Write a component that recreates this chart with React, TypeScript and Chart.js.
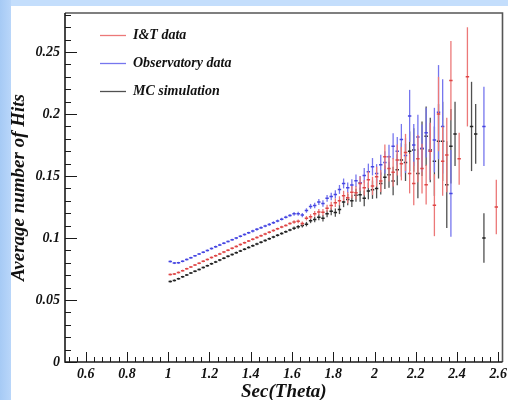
import React, { useEffect, useRef } from "react";
import { Chart, registerables } from "chart.js";

Chart.register(...registerables);

// ---- data ----
const secTheta = [
  1.01, 1.03, 1.05, 1.07, 1.09, 1.11, 1.13, 1.15, 1.17, 1.19,
  1.21, 1.23, 1.25, 1.27, 1.29, 1.31, 1.33, 1.35, 1.37, 1.39,
  1.41, 1.43, 1.45, 1.47, 1.49, 1.51, 1.53, 1.55, 1.57, 1.59,
  1.61, 1.63, 1.65, 1.67, 1.69, 1.71, 1.73, 1.75, 1.77, 1.79,
  1.81, 1.83, 1.85, 1.87, 1.89, 1.91, 1.93, 1.95, 1.97, 1.99,
  2.01, 2.03, 2.05, 2.07, 2.09, 2.11, 2.13, 2.15, 2.17, 2.19,
  2.21, 2.23, 2.25, 2.27, 2.29, 2.31, 2.33, 2.35, 2.37, 2.39,
  2.41, 2.43, 2.45, 2.47, 2.49, 2.51, 2.53, 2.55, 2.57, 2.59,
];

const itValues = [
  0.0705, 0.0710, 0.0722, 0.0737, 0.0752, 0.0767, 0.0782, 0.0797, 0.0812, 0.0827,
  0.0842, 0.0857, 0.0872, 0.0887, 0.0902, 0.0917, 0.0932, 0.0947, 0.0962, 0.0976,
  0.0990, 0.1004, 0.1018, 0.1032, 0.1046, 0.1060, 0.1074, 0.1088, 0.1102, 0.1118,
  0.1130, 0.1135, 0.1118, 0.1160, 0.1172, 0.1195, 0.1210, 0.1208, 0.1240, 0.1262,
  0.1285, 0.1300, 0.1340, 0.1325, 0.1370, 0.1365, 0.1440, 0.1405, 0.1470, 0.1420,
  0.1495, 0.1460, 0.1655, 0.1560, 0.1530, 0.1630, 0.1600, 0.1690, 0.1520, 0.1440,
  0.1640, 0.1560, 0.1430, 0.1700, 0.1265, 0.2000, 0.1620, 0.1670, 0.2270, null,
  0.1640, null, 0.2300, null, null, null, null, null, null, 0.1250,
];
const itErrors = [
  0.0008, 0.0008, 0.0008, 0.0008, 0.0008, 0.0008, 0.0008, 0.0008, 0.0008, 0.0008,
  0.0009, 0.0009, 0.0009, 0.0009, 0.0009, 0.0009, 0.0009, 0.0009, 0.0009, 0.0009,
  0.0010, 0.0010, 0.0010, 0.0010, 0.0010, 0.0010, 0.0010, 0.0010, 0.0010, 0.0010,
  0.0014, 0.0015, 0.0016, 0.0018, 0.0020, 0.0022, 0.0024, 0.0026, 0.0028, 0.0031,
  0.0034, 0.0037, 0.0041, 0.0045, 0.0049, 0.0053, 0.0058, 0.0063, 0.0068, 0.0074,
  0.0080, 0.0088, 0.0100, 0.0105, 0.0115, 0.0125, 0.0135, 0.0150, 0.0160, 0.0175,
  0.0190, 0.0200, 0.0160, 0.0230, 0.0250, 0.0300, 0.0280, 0.0300, 0.0320, null,
  0.0210, null, 0.0400, null, null, null, null, null, null, 0.0220,
];

const obsValues = [
  0.0810, 0.0798, 0.0800, 0.0812, 0.0826, 0.0841, 0.0856, 0.0871, 0.0886, 0.0900,
  0.0915, 0.0930, 0.0944, 0.0958, 0.0972, 0.0986, 0.1000, 0.1014, 0.1028, 0.1042,
  0.1056, 0.1070, 0.1083, 0.1097, 0.1110, 0.1124, 0.1138, 0.1152, 0.1168, 0.1182,
  0.1195, 0.1196, 0.1185, 0.1222, 0.1255, 0.1262, 0.1290, 0.1278, 0.1320, 0.1335,
  0.1352, 0.1392, 0.1440, 0.1405, 0.1428, 0.1462, 0.1445, 0.1505, 0.1535, 0.1575,
  0.1520, 0.1590, 0.1610, 0.1655, 0.1740, 0.1700, 0.1795, 0.1665, 0.1985, 0.1750,
  0.1815, 0.1725, 0.1850, 0.1700, 0.1790, 0.2015, 0.1900, null, 0.1360, null,
  null, null, null, null, null, null, 0.1900, null, null, null,
];
const obsErrors = [
  0.0008, 0.0008, 0.0008, 0.0008, 0.0008, 0.0008, 0.0008, 0.0008, 0.0008, 0.0008,
  0.0009, 0.0009, 0.0009, 0.0009, 0.0009, 0.0009, 0.0009, 0.0009, 0.0009, 0.0009,
  0.0011, 0.0011, 0.0011, 0.0011, 0.0011, 0.0011, 0.0011, 0.0011, 0.0011, 0.0011,
  0.0015, 0.0016, 0.0017, 0.0018, 0.0020, 0.0022, 0.0024, 0.0026, 0.0028, 0.0030,
  0.0033, 0.0036, 0.0040, 0.0043, 0.0047, 0.0051, 0.0055, 0.0060, 0.0065, 0.0070,
  0.0076, 0.0082, 0.0090, 0.0098, 0.0105, 0.0115, 0.0125, 0.0140, 0.0210, 0.0170,
  0.0180, 0.0190, 0.0200, 0.0230, 0.0260, 0.0380, 0.0380, null, 0.0350, null,
  null, null, null, null, null, null, 0.0320, null, null, null,
];

const mcValues = [
  0.0650, 0.0658, 0.0672, 0.0687, 0.0702, 0.0717, 0.0732, 0.0747, 0.0762, 0.0777,
  0.0792, 0.0807, 0.0822, 0.0837, 0.0852, 0.0867, 0.0882, 0.0896, 0.0910, 0.0924,
  0.0938, 0.0952, 0.0966, 0.0980, 0.0994, 0.1008, 0.1022, 0.1036, 0.1050, 0.1064,
  0.1078, 0.1090, 0.1100, 0.1112, 0.1140, 0.1150, 0.1168, 0.1160, 0.1195, 0.1215,
  0.1205, 0.1230, 0.1290, 0.1310, 0.1300, 0.1345, 0.1350, 0.1320, 0.1380, 0.1390,
  0.1400, 0.1440, 0.1490, 0.1510, 0.1460, 0.1550, 0.1630, 0.1610, 0.1700, 0.1710,
  0.1520, 0.1720, 0.1820, 0.1710, 0.1620, 0.1780, 0.1780, 0.1430, 0.1740, 0.1840,
  null, null, null, 0.1900, 0.1840, null, 0.1000, null, null, null,
];
const mcErrors = [
  0.0008, 0.0008, 0.0008, 0.0008, 0.0008, 0.0008, 0.0008, 0.0008, 0.0008, 0.0008,
  0.0009, 0.0009, 0.0009, 0.0009, 0.0009, 0.0009, 0.0009, 0.0009, 0.0009, 0.0009,
  0.0010, 0.0010, 0.0010, 0.0010, 0.0010, 0.0010, 0.0010, 0.0010, 0.0010, 0.0010,
  0.0014, 0.0015, 0.0016, 0.0018, 0.0020, 0.0022, 0.0024, 0.0026, 0.0028, 0.0031,
  0.0034, 0.0037, 0.0041, 0.0045, 0.0049, 0.0053, 0.0058, 0.0063, 0.0068, 0.0074,
  0.0080, 0.0088, 0.0095, 0.0105, 0.0115, 0.0125, 0.0135, 0.0150, 0.0160, 0.0175,
  0.0200, 0.0220, 0.0240, 0.0260, 0.0280, 0.0300, 0.0320, 0.0350, 0.0300, 0.0260,
  null, null, null, 0.0360, 0.0240, null, 0.0200, null, null, null,
];

const seriesLabels = ["I&T data", "Observatory data", "MC simulation"];

const xTickValues = [0.6, 0.8, 1, 1.2, 1.4, 1.6, 1.8, 2, 2.2, 2.4, 2.6];
const xTickLabels = ["0.6", "0.8", "1", "1.2", "1.4", "1.6", "1.8", "2", "2.2", "2.4", "2.6"];
const yTickValues = [0, 0.05, 0.1, 0.15, 0.2, 0.25];
const yTickLabels = ["0", "0.05", "0.1", "0.15", "0.2", "0.25"];

const X_MIN = 0.5;
const X_MAX = 2.62;
const Y_MIN = 0;
const Y_MAX = 0.2815;

// ---- styles ----
const FAMILY = "'Liberation Serif', 'DejaVu Serif', serif";
const COLORS = [
  { bar: "rgb(236,120,120)", mark: "rgb(222,70,70)" },
  { bar: "rgb(118,118,238)", mark: "rgb(70,70,225)" },
  { bar: "rgb(80,80,80)", mark: "rgb(35,35,35)" },
];

function buildPoints(values: (number | null)[], errors: (number | null)[]) {
  const out: { x: number; y: number; err: number }[] = [];
  values.forEach((v, i) => {
    if (v !== null && v !== undefined) {
      out.push({ x: secTheta[i], y: v, err: errors[i] ?? 0 });
    }
  });
  return out;
}

const errorBarPlugin = {
  id: "errorBars",
  beforeDatasetDraw(chart: any, args: any) {
    const ds = chart.data.datasets[args.index];
    const meta = args.meta;
    const yScale = chart.scales.y;
    const ctx = chart.ctx;
    ctx.save();
    ctx.strokeStyle = ds.errorColor;
    ctx.lineWidth = 1.3;
    meta.data.forEach((el: any, j: number) => {
      const p = ds.data[j];
      if (!p || !p.err) return;
      const y1 = yScale.getPixelForValue(p.y - p.err);
      const y2 = yScale.getPixelForValue(p.y + p.err);
      ctx.beginPath();
      ctx.moveTo(el.x, y1);
      ctx.lineTo(el.x, y2);
      ctx.stroke();
    });
    ctx.restore();
  },
};

function minorValues(major: number[], lo: number, hi: number, parts: number) {
  const step = (major[1] - major[0]) / parts;
  const vals: number[] = [];
  let v = major[0];
  while (v - step >= lo - 1e-9) v -= step;
  for (; v <= hi + 1e-9; v += step) vals.push(Math.round(v * 10000) / 10000);
  return vals;
}

const frameTicksPlugin = {
  id: "frameTicks",
  afterDraw(chart: any) {
    const { ctx, chartArea } = chart;
    const { left, top, right, bottom } = chartArea;
    const xs = chart.scales.x;
    const ys = chart.scales.y;
    ctx.save();
    ctx.strokeStyle = "#1a1a1a";
    ctx.lineWidth = 1;
    minorValues(yTickValues, Y_MIN, Y_MAX, 5).forEach((v) => {
      const isMajor = yTickValues.some((m) => Math.abs(m - v) < 1e-6);
      const py = Math.round(ys.getPixelForValue(v)) + 0.5;
      ctx.beginPath();
      ctx.moveTo(left, py);
      ctx.lineTo(left + (isMajor ? 12 : 6), py);
      ctx.stroke();
    });
    minorValues(xTickValues, X_MIN, X_MAX, 5).forEach((v) => {
      const isMajor = xTickValues.some((m) => Math.abs(m - v) < 1e-6);
      const px = Math.round(xs.getPixelForValue(v)) + 0.5;
      ctx.beginPath();
      ctx.moveTo(px, bottom);
      ctx.lineTo(px, bottom - (isMajor ? 10 : 5));
      ctx.stroke();
    });
    ctx.lineWidth = 1.6;
    ctx.strokeStyle = "#555";
    ctx.beginPath();
    ctx.moveTo(left, top);
    ctx.lineTo(right, top);
    ctx.lineTo(right, bottom);
    ctx.stroke();
    ctx.strokeStyle = "#1a1a1a";
    ctx.beginPath();
    ctx.moveTo(left, top);
    ctx.lineTo(left, bottom);
    ctx.lineTo(right, bottom);
    ctx.stroke();
    ctx.restore();
  },
};

const legendPlugin = {
  id: "rootLegend",
  afterDraw(chart: any) {
    const { ctx, chartArea } = chart;
    const { left, top } = chartArea;
    ctx.save();
    ctx.font = `italic bold 14px ${FAMILY}`;
    ctx.textBaseline = "middle";
    chart.data.datasets.forEach((ds: any, i: number) => {
      const y = top + 22 + i * 28;
      ctx.strokeStyle = ds.errorColor;
      ctx.lineWidth = 1.3;
      ctx.beginPath();
      ctx.moveTo(left + 35, y + 0.5);
      ctx.lineTo(left + 61, y + 0.5);
      ctx.stroke();
      ctx.fillStyle = "#111";
      ctx.fillText(ds.label, left + 68, y);
    });
    ctx.restore();
  },
};

export default function App() {
  const canvasRef = useRef<HTMLCanvasElement>(null);

  useEffect(() => {
    const canvas = canvasRef.current;
    if (!canvas) return;
    const tickFont = { family: FAMILY, size: 14, weight: "bold" as const, style: "italic" as const };
    const titleFont = { family: FAMILY, size: 19, weight: "bold" as const, style: "italic" as const, lineHeight: 0.8 };
    const seriesVals = [itValues, obsValues, mcValues];
    const seriesErrs = [itErrors, obsErrors, mcErrors];

    const chart = new Chart(canvas, {
      type: "scatter",
      data: {
        datasets: seriesLabels.map((label, i) => ({
          label,
          data: buildPoints(seriesVals[i], seriesErrs[i]),
          errorColor: COLORS[i].bar,
          borderColor: COLORS[i].mark,
          backgroundColor: COLORS[i].mark,
          pointStyle: "line",
          pointRadius: 1.7,
          pointBorderWidth: 1.5,
          showLine: false,
        })) as any,
      },
      options: {
        responsive: false,
        animation: false,
        events: [],
        layout: { padding: { top: 7, right: 3, left: 0, bottom: 0 } },
        plugins: {
          legend: { display: false },
          tooltip: { enabled: false },
        },
        scales: {
          x: {
            type: "linear",
            min: X_MIN,
            max: X_MAX,
            afterBuildTicks: (s: any) => {
              s.ticks = xTickValues.map((v) => ({ value: v }));
            },
            afterFit: (s: any) => {
              s.height = 38;
              s.paddingLeft = 0;
              s.paddingRight = 0;
            },
            grid: { display: false, drawTicks: false },
            border: { display: false },
            ticks: {
              callback: (_v: any, i: number) => xTickLabels[i],
              font: tickFont,
              color: "#111",
              padding: 4,
              maxRotation: 0,
              autoSkip: false,
            },
            title: {
              display: true,
              text: "Sec(Theta)",
              font: titleFont,
              color: "#111",
              padding: 0,
            },
          },
          y: {
            type: "linear",
            min: Y_MIN,
            max: Y_MAX,
            afterBuildTicks: (s: any) => {
              s.ticks = yTickValues.map((v) => ({ value: v }));
            },
            afterFit: (s: any) => {
              s.width = 54;
              s.paddingTop = 0;
              s.paddingBottom = 0;
            },
            grid: { display: false, drawTicks: false },
            border: { display: false },
            ticks: {
              callback: (_v: any, i: number) => yTickLabels[i],
              font: tickFont,
              color: "#111",
              padding: 5,
              autoSkip: false,
            },
            title: {
              display: true,
              text: "Average number of Hits",
              font: titleFont,
              color: "#111",
              padding: 0,
            },
          },
        },
      } as any,
      plugins: [errorBarPlugin, frameTicksPlugin, legendPlugin],
    });
    return () => chart.destroy();
  }, []);

  return (
    <div
      style={{
        position: "fixed",
        left: 0,
        top: 0,
        width: 508,
        height: 400,
        overflow: "hidden",
        background: "linear-gradient(to right, #a6caf5 0px, #b9d6fa 11px, #c4defc 11px)",
      }}
    >
      <div style={{ position: "absolute", left: 11, top: 6, width: 497, height: 394, background: "#fff" }}>
        <canvas ref={canvasRef} width={497} height={394} style={{ display: "block" }} />
      </div>
    </div>
  );
}
